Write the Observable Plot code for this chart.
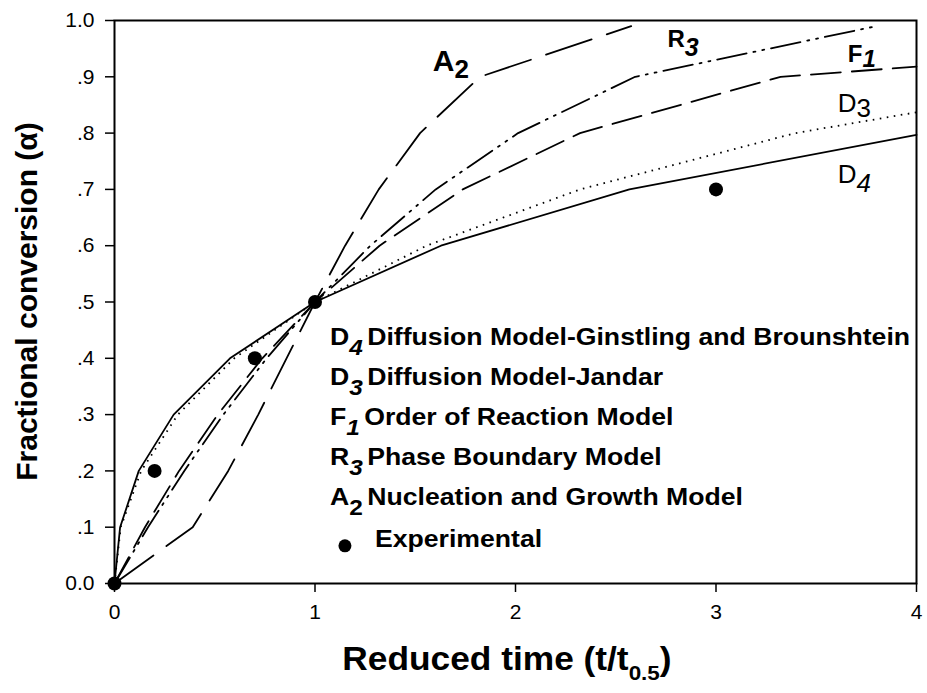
<!DOCTYPE html>
<html>
<head>
<meta charset="utf-8">
<script src="https://cdn.jsdelivr.net/npm/d3@7"></script>
<script src="https://cdn.jsdelivr.net/npm/@observablehq/plot@0.6"></script>
<style>
  html, body { margin: 0; padding: 0; background: #fff; }
  #chart { width: 927px; height: 693px; }
</style>
</head>
<body>
<div id="chart"></div>
<script>
// ---- data ----
// D4 curve (solid)
const d4X = [0, 0.028, 0.121, 0.295, 0.576, 1, 1.628, 2.568, 4];
const d4Y = [0, 0.1, 0.2, 0.3, 0.4, 0.5, 0.6, 0.7, 0.797];
// D3 curve (dotted)
const d3X = [0, 0.031, 0.133, 0.316, 0.597, 1, 1.556, 2.322, 3.396, 4];
const d3Y = [0, 0.1, 0.2, 0.3, 0.4, 0.5, 0.6, 0.7, 0.8, 0.837];
// F1 curve (dashed)
const f1X = [0, 0.152, 0.322, 0.515, 0.737, 1, 1.322, 1.737, 2.322, 3.322, 4];
const f1Y = [0, 0.1, 0.2, 0.3, 0.4, 0.5, 0.6, 0.7, 0.8, 0.9, 0.918];
// R3 curve (dash-dot-dot)
const r3X = [0, 0.167, 0.348, 0.543, 0.759, 1, 1.276, 1.602, 2.013, 2.597, 3.8];
const r3Y = [0, 0.1, 0.2, 0.3, 0.4, 0.5, 0.6, 0.7, 0.8, 0.9, 0.99];
// A2 curve (long dash)
const a2X = [0, 0.39, 0.567, 0.717, 0.858, 1, 1.15, 1.318, 1.524, 1.823, 2.577];
const a2Y = [0, 0.1, 0.2, 0.3, 0.4, 0.5, 0.6, 0.7, 0.8, 0.9, 0.99];
// Experimental points
const expX = [0, 0.2, 0.7, 1, 3];
const expY = [0, 0.2, 0.4, 0.5, 0.7];

// Axis ticks
const xTicks = [0, 1, 2, 3, 4];
const xTickLabels = ["0", "1", "2", "3", "4"];
const yTicks = [0, 0.1, 0.2, 0.3, 0.4, 0.5, 0.6, 0.7, 0.8, 0.9, 1.0];
const yTickLabels = ["0.0", ".1", ".2", ".3", ".4", ".5", ".6", ".7", ".8", ".9", "1.0"];

// Legend entries
const legendMain = ["D", "D", "F", "R", "A"];
const legendSub = ["4", "3", "1", "3", "2"];
const legendText = [
  "Diffusion Model-Ginstling and Brounshtein",
  "Diffusion Model-Jandar",
  "Order of Reaction Model",
  "Phase Boundary Model",
  "Nucleation and Growth Model"
];
const experimentalLabel = "Experimental";
const xTitle = "Reduced time (t/t";
const xTitleSub = "0.5";
const yTitle = "Fractional conversion (\u03b1)";

// ---- build tables ----
const toRows = (xs, ys) => xs.map((x, i) => ({x, y: ys[i]}));
const d4 = toRows(d4X, d4Y);
const d3r = toRows(d3X, d3Y);
const f1 = toRows(f1X, f1Y);
const r3 = toRows(r3X, r3Y);
const a2 = toRows(a2X, a2Y);
const exp = toRows(expX, expY);

const FONT = "'Liberation Sans', Arial, Helvetica, sans-serif";

const chart = Plot.plot({
  width: 927,
  height: 693,
  marginLeft: 114,
  marginRight: 11,
  marginTop: 20,
  marginBottom: 110,
  style: {fontFamily: FONT, fontSize: "21px", color: "#000", background: "#fff", overflow: "visible"},
  x: {domain: [0, 4], ticks: xTicks, tickFormat: d => xTickLabels[xTicks.indexOf(d)], tickSize: 9, tickPadding: 12, label: null},
  y: {domain: [0, 1], ticks: yTicks, tickFormat: d => yTickLabels[yTicks.findIndex(t => Math.abs(t - d) < 1e-9)], tickSize: 9, tickPadding: 11, label: null},
  marks: [
    Plot.frame({stroke: "#000", strokeWidth: 2}),
    Plot.line(d4, {x: "x", y: "y", stroke: "#000", strokeWidth: 1.8}),
    Plot.line(d3r, {x: "x", y: "y", stroke: "#000", strokeWidth: 1.8, strokeDasharray: "1.6,5.5", strokeLinecap: "butt"}),
    Plot.line(f1, {x: "x", y: "y", stroke: "#000", strokeWidth: 1.8, strokeDasharray: "30,11"}),
    Plot.line(r3, {x: "x", y: "y", stroke: "#000", strokeWidth: 1.8, strokeDasharray: "30,7,2,7,2,7"}),
    Plot.line(a2, {x: "x", y: "y", stroke: "#000", strokeWidth: 1.8, strokeDasharray: "48,16"}),
    Plot.dot(exp, {x: "x", y: "y", r: 7, fill: "#000", stroke: "none"})
  ]
});

document.getElementById("chart").appendChild(chart);

// ---- annotations using the plot's own scales ----
const sx = chart.scale("x");
const sy = chart.scale("y");
const X = v => sx.apply(v);
const Y = v => sy.apply(v);
const svg = d3.select(chart);
svg.selectAll("g[aria-label='x-axis tick'] path, g[aria-label='y-axis tick'] path").attr("stroke-width", 1.5);

const ann = svg.append("g").attr("font-family", FONT).attr("fill", "#000").attr("text-anchor", "start");

// horizontal stretch of a text about an anchor x (reference font is wider)
function stretch(sel, k, x0) {
  sel.attr("transform", `translate(${x0},0) scale(${k},1) translate(${-x0},0)`);
}

// x-axis title
const xtX = X(1.96);
const xt = ann.append("text")
  .attr("x", xtX).attr("y", 670)
  .attr("text-anchor", "middle")
  .attr("font-weight", "bold").attr("font-size", 33);
xt.append("tspan").text(xTitle);
xt.append("tspan").attr("font-size", 21).attr("dy", 10).text(xTitleSub);
xt.append("tspan").attr("dy", -10).text(")");
stretch(xt, 1.07, xtX);

// y-axis title
ann.append("text")
  .attr("transform", `translate(37,${Y(0.5)}) rotate(-90)`)
  .attr("text-anchor", "middle")
  .attr("font-weight", "bold").attr("font-size", 30)
  .text(yTitle);

// curve labels
function label(xv, yv, main, sub, opts) {
  const t = ann.append("text").attr("x", X(xv)).attr("y", Y(yv)).attr("text-anchor", "start")
    .attr("font-size", opts.size).attr("font-weight", opts.bold ? "bold" : "normal");
  t.append("tspan").text(main);
  t.append("tspan").attr("font-size", opts.subSize).attr("dy", opts.dy)
    .attr("font-style", opts.italic ? "italic" : "normal").text(sub);
}
label(1.59, 0.909, "A", "2", {size: 30, subSize: 26, dy: 7, bold: true, italic: false});
label(2.76, 0.952, "R", "3", {size: 24, subSize: 25, dy: 9, bold: true, italic: true});
label(3.66, 0.925, "F", "1", {size: 24, subSize: 24, dy: 5, bold: true, italic: true});
label(3.61, 0.837, "D", "3", {size: 26, subSize: 26, dy: 5, bold: false, italic: false});
label(3.61, 0.710, "D", "4", {size: 26, subSize: 26, dy: 9, bold: false, italic: true});

// legend
const legX = X(1.077);
const legY0 = Y(0.423);
const legStep = 40;
const legStretch = 1.11;
legendMain.forEach((m, i) => {
  const t = ann.append("text").attr("x", legX).attr("y", legY0 + i * legStep).attr("text-anchor", "start")
    .attr("font-size", 24).attr("font-weight", "bold");
  t.append("tspan").text(m);
  t.append("tspan").attr("font-size", 22).attr("dy", 10)
    .attr("font-style", legendSub[i] === "2" ? "normal" : "italic").text(legendSub[i]);
  t.append("tspan").attr("dy", -10).attr("dx", 4).text(legendText[i]);
  stretch(t, legStretch, legX);
});
ann.append("circle").attr("cx", legX + 15).attr("cy", legY0 + 5 * legStep + 1).attr("r", 6.5);
const expT = ann.append("text").attr("x", legX + 45).attr("y", legY0 + 5 * legStep + 2).attr("text-anchor", "start")
  .attr("font-size", 24).attr("font-weight", "bold").text(experimentalLabel);
stretch(expT, legStretch, legX + 45);
</script>
</body>
</html>
